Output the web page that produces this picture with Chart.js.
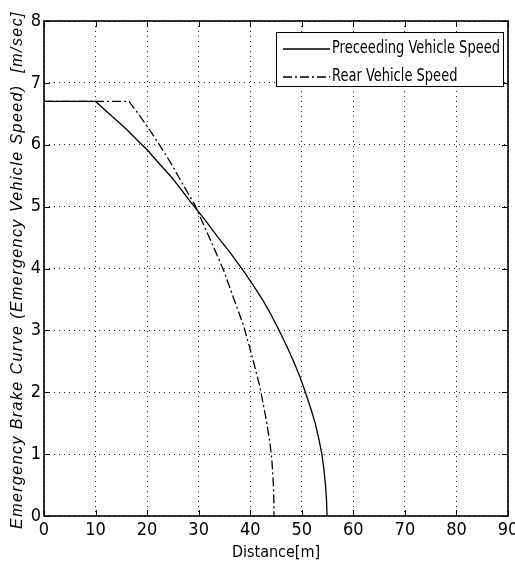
<!DOCTYPE html>
<html>
<head>
<meta charset="utf-8">
<script src="https://cdn.jsdelivr.net/npm/chart.js@4/dist/chart.umd.min.js"></script>
<style>
    html, body { margin: 0; padding: 0; background: #fff; }
    #wrap { width: 515px; height: 567px; }
</style>
</head>
<body>
<div id="wrap"><canvas id="chart" width="515" height="567"></canvas></div>
<script>
// values
const precedingX = [0, 10, 12, 14, 16, 18, 20, 22.5, 25, 28.5, 31, 33.5, 36, 38.8, 40.5, 42.5, 44, 45.6, 47, 48.4, 49.6, 50.7, 51.7, 52.6, 53.3, 53.9, 54.3, 54.6, 54.8, 54.9];
const precedingY = [6.7, 6.7, 6.55, 6.4, 6.25, 6.08, 5.92, 5.68, 5.45, 5.07, 4.81, 4.53, 4.27, 3.95, 3.74, 3.48, 3.26, 3.0, 2.76, 2.5, 2.26, 2.0, 1.75, 1.5, 1.25, 1.0, 0.75, 0.5, 0.25, 0];
const rearX = [0, 16.5, 17.2, 18.3, 20, 22, 24.5, 27, 29.3, 32.6, 34.8, 36.7, 38.7, 40.3, 41.9, 43.0, 43.8, 44.2, 44.5, 44.6, 44.6];
const rearY = [6.7, 6.7, 6.62, 6.5, 6.3, 6.05, 5.72, 5.35, 5.02, 4.4, 3.98, 3.54, 3.08, 2.6, 2.08, 1.6, 1.2, 0.9, 0.5, 0.2, 0];
const seriesLabels = ['Preceeding Vehicle Speed', 'Rear Vehicle Speed'];
const seriesDash = [[], [9, 3, 2, 3]];
const xTitle = 'Distance[m]';
const yTitle = 'Emergency Brake Curve (Emergency Vehicle Speed)  [m/sec]';

const NARROW = "'Liberation Sans Narrow', 'Arial Narrow', 'DejaVu Sans Condensed', sans-serif";
const SANS = "'Liberation Sans', Arial, sans-serif";

const toPoints = (xs, ys) => xs.map((x, i) => ({ x, y: ys[i] }));

// box around the plot with inward tick marks
const framePlugin = {
    id: 'frame',
    afterDraw(chart) {
        const { ctx, chartArea: a, scales } = chart;
        ctx.save();
        ctx.strokeStyle = '#000';
        ctx.lineWidth = 1;
        ctx.beginPath();
        scales.x.ticks.forEach(t => {
            const px = Math.round(scales.x.getPixelForValue(t.value)) + 0.5;
            ctx.moveTo(px, a.bottom); ctx.lineTo(px, a.bottom - 6);
            ctx.moveTo(px, a.top); ctx.lineTo(px, a.top + 6);
        });
        scales.y.ticks.forEach(t => {
            const py = Math.round(scales.y.getPixelForValue(t.value)) + 0.5;
            ctx.moveTo(a.left, py); ctx.lineTo(a.left + 6, py);
            ctx.moveTo(a.right, py); ctx.lineTo(a.right - 6, py);
        });
        ctx.stroke();
        ctx.lineWidth = 1.6;
        ctx.strokeRect(a.left, a.top, a.right - a.left, a.bottom - a.top);
        ctx.restore();
    },
};

// rotated italic y title, spread like the original
const yTitlePlugin = {
    id: 'yTitle',
    afterDraw(chart) {
        const { ctx } = chart;
        ctx.save();
        ctx.font = 'italic 16px ' + SANS;
        ctx.fillStyle = '#000';
        ctx.letterSpacing = '0px';
        const w = ctx.measureText(yTitle).width;
        const spacing = Math.max(0, (518 - w) / yTitle.length);
        ctx.letterSpacing = spacing.toFixed(2) + 'px';
        ctx.translate(17.5, 270);
        ctx.rotate(-Math.PI / 2);
        ctx.textAlign = 'center';
        ctx.textBaseline = 'middle';
        ctx.fillText(yTitle, 0, 0);
        ctx.restore();
    },
};

// boxed legend in the top right corner
const legendPlugin = {
    id: 'boxLegend',
    afterDraw(chart) {
        const { ctx } = chart;
        const box = { x: 276, y: 32, w: 227, h: 54 };
        ctx.save();
        ctx.fillStyle = '#fff';
        ctx.fillRect(box.x, box.y, box.w, box.h);
        ctx.strokeStyle = '#000';
        ctx.lineWidth = 1;
        ctx.strokeRect(box.x + 0.5, box.y + 0.5, box.w, box.h);
        ctx.font = '17px ' + NARROW;
        ctx.textAlign = 'left';
        ctx.textBaseline = 'middle';
        // squeeze the text to the narrow width of the original font
        const squeeze = Math.min(1, 168 / ctx.measureText(chart.data.datasets[0].label).width);
        chart.data.datasets.forEach((ds, i) => {
            const y = box.y + 17 + i * 28;
            ctx.setLineDash(ds.borderDash || []);
            ctx.lineWidth = 1.3;
            ctx.beginPath();
            ctx.moveTo(box.x + 7, y);
            ctx.lineTo(box.x + 54, y);
            ctx.stroke();
            ctx.setLineDash([]);
            ctx.fillStyle = '#000';
            ctx.save();
            ctx.translate(box.x + 56, y);
            ctx.scale(squeeze, 1);
            ctx.fillText(ds.label, 0, 0);
            ctx.restore();
        });
        ctx.restore();
    },
};

const ctx = document.getElementById('chart').getContext('2d');
new Chart(ctx, {
    type: 'line',
    data: {
        datasets: [
            {
                label: seriesLabels[0],
                data: toPoints(precedingX, precedingY),
                borderColor: '#000',
                borderWidth: 1.3,
                borderDash: seriesDash[0],
                pointRadius: 0,
                fill: false,
                tension: 0,
            },
            {
                label: seriesLabels[1],
                data: toPoints(rearX, rearY),
                borderColor: '#000',
                borderWidth: 1.3,
                borderDash: seriesDash[1],
                pointRadius: 0,
                fill: false,
                tension: 0,
            },
        ],
    },
    options: {
        responsive: false,
        animation: false,
        layout: { padding: { top: 21, right: 7, left: 0, bottom: 0 } },
        plugins: { legend: { display: false }, tooltip: { enabled: false } },
        scales: {
            x: {
                type: 'linear',
                min: 0,
                max: 90,
                ticks: { stepSize: 10, padding: 4, color: '#000', font: { family: NARROW, size: 18 } },
                grid: { color: '#222', lineWidth: 1, drawTicks: false },
                border: { display: false, dash: [1, 4] },
                title: { display: true, text: xTitle, color: '#000', font: { family: NARROW, size: 16 }, padding: { top: 0, bottom: 5 } },
                afterFit(scale) {
                    scale.height = 51;
                    scale.paddingLeft = 0;
                    scale.paddingRight = 0;
                },
            },
            y: {
                min: 0,
                max: 8,
                ticks: { stepSize: 1, padding: 3, color: '#000', font: { family: NARROW, size: 18 } },
                grid: { color: '#222', lineWidth: 1, drawTicks: false },
                border: { display: false, dash: [1, 4] },
                afterFit(scale) {
                    scale.width = 44;
                    scale.paddingTop = 0;
                    scale.paddingBottom = 0;
                },
            },
        },
    },
    plugins: [framePlugin, yTitlePlugin, legendPlugin],
});
</script>
</body>
</html>
